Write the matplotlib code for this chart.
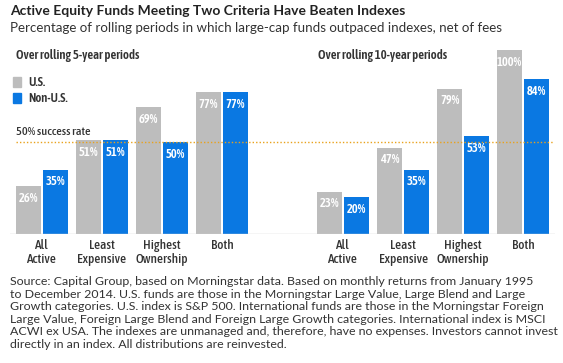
import matplotlib.pyplot as plt
import numpy as np

# data
categories = ["All\nActive", "Least\nExpensive", "Highest\nOwnership", "Both"]
us_5yr = [26, 51, 69, 77]
nonus_5yr = [35, 51, 50, 77]
us_10yr = [23, 47, 79, 100]
nonus_10yr = [20, 35, 53, 84]
success_rate = 50

footnote = ("Source: Capital Group, based on Morningstar data. Based on monthly returns from January 1995\n"
            "to December 2014. U.S. funds are those in the Morningstar Large Value, Large Blend and Large\n"
            "Growth categories. U.S. index is S&P 500. International funds are those in the Morningstar Foreign\n"
            "Large Value, Foreign Large Blend and Foreign Large Growth categories. International index is MSCI\n"
            "ACWI ex USA. The indexes are unmanaged and, therefore, have no expenses. Investors cannot invest\n"
            "directly in an index. All distributions are reinvested.")

GRAY = "#bdbdbd"
BLUE = "#0a78e2"
ORANGE = "#e9a21c"
TEXT = "#333333"
MAIN = "Lato"
COND = "Asap Condensed"

W, H = 563, 363
fig = plt.figure(figsize=(W / 100, H / 100), dpi=100)

# one axes for both panels, groups at 0..3 and 5..8
ax = fig.add_axes([10 / W, 129 / H, 545 / W, 184 / H])
ax.set_xlim((10 - 42) / 60, (555 - 42) / 60)
ax.set_ylim(0, 100)
ax.axis("off")

x_left = np.arange(4)
x_right = np.arange(4) + 5.02
bw = 0.415
off = 0.225

for xs, us, nu in [(x_left, us_5yr, nonus_5yr), (x_right, us_10yr, nonus_10yr)]:
    ax.bar(xs - off, us, bw, color=GRAY)
    ax.bar(xs + off, nu, bw, color=BLUE)
    for xi, v in zip(xs - off, us):
        ax.text(xi, v - 3, f"{v}%", ha="center", va="top", color="white",
                fontsize=9, fontweight=600, family=COND)
    for xi, v in zip(xs + off, nu):
        ax.text(xi, v - 3, f"{v}%", ha="center", va="top", color="white",
                fontsize=9, fontweight=600, family=COND)
    for xi, c in zip(xs, categories):
        ax.text(xi, -2.5, c, ha="center", va="top", color=TEXT, fontsize=9.5,
                fontweight=500, family=COND, linespacing=1.1)

# baseline and 50% line
ax.axhline(0, color="#d0d0d0", lw=1, xmin=0, xmax=1)
ax.axhline(success_rate, color=ORANGE, lw=1, ls=(0, (1, 1.5)),
           xmin=0.011, xmax=0.998)
ax.text(-0.43, success_rate + 2.5, "50% success rate", color=TEXT,
        fontsize=8.8, fontweight=500, family=COND, va="bottom")

# titles
fig.text(10 / W, 1 - 11 / H, "Active Equity Funds Meeting Two Criteria Have Beaten Indexes",
         fontsize=10, fontweight="bold", color="#222222", family=MAIN, va="center")
fig.text(10 / W, 1 - 28 / H,
         "Percentage of rolling periods in which large-cap funds outpaced indexes, net of fees",
         fontsize=9.6, color="#333333", family=MAIN, va="center")
fig.text(16 / W, 1 - 56 / H, "Over rolling 5-year periods", fontsize=9.2,
         fontweight=600, color=TEXT, family=COND, va="center")
fig.text(318 / W, 1 - 56 / H, "Over rolling 10-year periods", fontsize=9.2,
         fontweight=600, color=TEXT, family=COND, va="center")

# legend
fig.patches.append(plt.Rectangle((13 / W, 1 - 87 / H), 8 / W, 10 / H,
                                 transform=fig.transFigure, color=GRAY))
fig.patches.append(plt.Rectangle((13 / W, 1 - 103 / H), 8 / W, 10 / H,
                                 transform=fig.transFigure, color=BLUE))
fig.text(28 / W, 1 - 82 / H, "U.S.", fontsize=9, fontweight=600,
         color=TEXT, family=COND, va="center")
fig.text(28 / W, 1 - 98 / H, "Non-U.S.", fontsize=9, fontweight=600,
         color=TEXT, family=COND, va="center")

# footnote
fig.text(10 / W, 1 - 276 / H, footnote, fontsize=8.9, color="#333333",
         family=MAIN, va="top", linespacing=1.17)

fig.savefig("out.png", dpi=100, facecolor="white")
